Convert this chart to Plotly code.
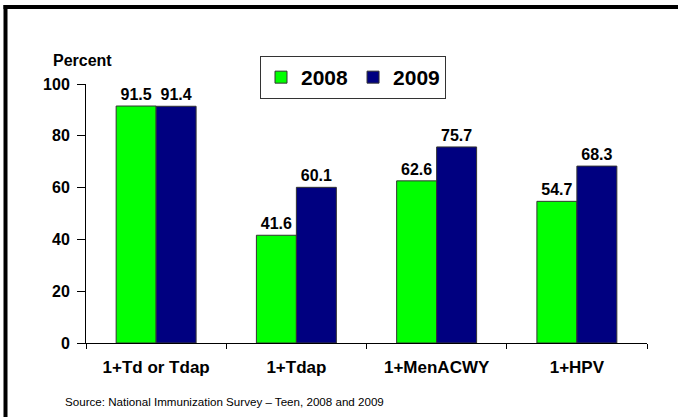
import plotly.graph_objects as go

categories = ["1+Td or Tdap", "1+Tdap", "1+MenACWY", "1+HPV"]
values_2008 = [91.5, 41.6, 62.6, 54.7]
values_2009 = [91.4, 60.1, 75.7, 68.3]
series_names = ["2008", "2009"]
y_ticks = [0, 20, 40, 60, 80, 100]

FONT = "Arial, Liberation Sans, sans-serif"
W, H = 678, 417
ML, MR, MT, MB = 86, 31, 84, 74
PW, PH = W - ML - MR, H - MT - MB


def px_x(p):
    return (p - ML) / PW


def px_y(p):
    return (H - MB - p) / PH


fig = go.Figure()
for name, vals, color in [(series_names[0], values_2008, "#00FF00"),
                          (series_names[1], values_2009, "#000080")]:
    fig.add_trace(go.Bar(
        x=categories, y=vals, name=name,
        marker=dict(color=color, line=dict(color="#333333", width=1)),
        text=[f"{v:.1f}" for v in vals],
        textposition="outside",
        textfont=dict(family=FONT, size=16, color="black", weight="bold"),
        cliponaxis=False,
    ))

fig.update_layout(
    width=W, height=H,
    margin=dict(l=ML, r=MR, t=MT, b=MB),
    paper_bgcolor="white", plot_bgcolor="white",
    barmode="group", bargap=0.43, bargroupgap=0,
    font=dict(family=FONT, color="black"),
    showlegend=True,
    legend=dict(
        orientation="h", x=px_x(353), y=px_y(56), xanchor="center", yanchor="top",
        bordercolor="#333333", borderwidth=1, bgcolor="white",
        font=dict(family=FONT, size=21, color="black", weight="bold"),
        itemwidth=30, tracegroupgap=0,
    ),
    xaxis=dict(
        type="category", tickson="boundaries", ticks="outside", ticklen=5,
        tickcolor="black", showline=True, linecolor="black", linewidth=1,
        showgrid=False, ticklabelstandoff=9,
        tickfont=dict(family=FONT, size=17, color="black", weight="bold"),
    ),
    yaxis=dict(
        range=[0, 100], tickvals=y_ticks, ticks="outside", ticklen=8,
        tickcolor="black", showline=True, linecolor="black", linewidth=1,
        showgrid=False, zeroline=False, ticklabelstandoff=4,
        tickfont=dict(family=FONT, size=16, color="black", weight="bold"),
    ),
    annotations=[
        dict(text="Percent", xref="paper", yref="paper", x=px_x(82), y=px_y(61),
             xanchor="center", yanchor="middle", showarrow=False,
             font=dict(family=FONT, size=16, color="black", weight="bold")),
        dict(text="Source: National Immunization Survey \u2013 Teen, 2008 and 2009",
             xref="paper", yref="paper", x=px_x(63), y=px_y(401),
             xanchor="left", yanchor="middle", showarrow=False,
             font=dict(family=FONT, size=11.6, color="black")),
    ],
    shapes=[
        dict(type="rect", xref="paper", yref="paper", layer="above",
             x0=px_x(3.5), x1=px_x(W), y0=px_y(9), y1=px_y(5),
             fillcolor="black", line=dict(width=0)),
        dict(type="rect", xref="paper", yref="paper", layer="above",
             x0=px_x(3.5), x1=px_x(7.5), y0=px_y(H), y1=px_y(5),
             fillcolor="black", line=dict(width=0)),
    ],
)

fig.write_html(
    "out.html",
    config={"displayModeBar": False},
    post_script="document.body.style.margin='0px';document.body.style.overflow='hidden';",
)
